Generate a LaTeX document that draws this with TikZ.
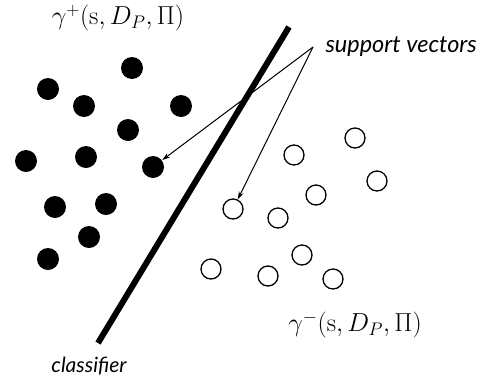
\RequirePackage{fix-cm}
\documentclass[tikz,border=0pt]{standalone}
\usepackage{amsmath,amssymb}
\usepackage{fontspec}
\newfontfamily\labelfont{Lato}
\usepackage{tikz}
\usetikzlibrary{arrows.meta}

\begin{document}
\begin{tikzpicture}[x=1pt, y=-1pt, line width=1pt,
  posdot/.style={circle, fill=black, inner sep=0pt, minimum size=22pt},
  negdot/.style={circle, draw=black, line width=1.3pt, inner sep=0pt, minimum size=20pt},
  svtext/.style={font=\labelfont\itshape\fontsize{21}{24}\selectfont, inner sep=0pt},
  mathtext/.style={font=\fontsize{26}{30}\selectfont, inner sep=0pt}]
  \useasboundingbox (0,0) rectangle (490,381);
  % positive class
  \foreach \x/\y [count=\i] in {132/68, 48/89, 84/106, 181/106, 128/130, 26/161,
                                86/157, 153/167, 55/207, 106/204, 89/237, 48/259}
    \node[posdot] (p\i) at (\x,\y) {};
  % negative class
  \foreach \x/\y [count=\i] in {355/138, 294/155, 377/181, 316/195, 233/209,
                                278/218, 302/255, 211/269, 268/276, 333/279}
    \node[negdot] (n\i) at (\x,\y) {};
  % classifier line
  \coordinate (cltop) at (289,27);
  \coordinate (clbot) at (98,343);
  \draw[line width=6pt] (cltop) -- (clbot);
  \node[svtext] (cllabel) at (89,366) {classifier};
  % labels
  \node[mathtext] (gplus) at (118,18) {$\gamma^{+}(\mathrm{s},D_P,\Pi)$};
  \node[mathtext] (gminus) at (355,325) {$\gamma^{-}(\mathrm{s},D_P,\Pi)$};
  \node[svtext, anchor=west, font=\labelfont\itshape\fontsize{23.5}{27}\selectfont]
    (svlabel) at (325,47) {support vectors};
  \coordinate (sv) at (313,47);
  \draw[-{Stealth[length=8pt,width=5pt]}] (sv) -- (p8);
  \draw[-{Stealth[length=8pt,width=5pt]}] (sv) -- (n5);
\end{tikzpicture}
\end{document}
